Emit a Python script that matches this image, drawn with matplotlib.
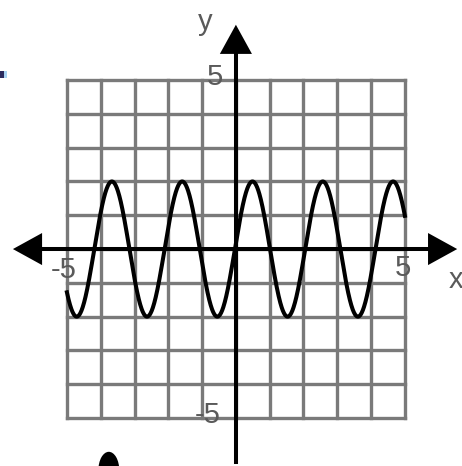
import numpy as np
import matplotlib
matplotlib.use("Agg")
import matplotlib.pyplot as plt
from matplotlib.patches import Ellipse

# --- data ---
grid_ticks = list(range(-5, 6))          # grid lines at every integer from -5 to 5
x_tick_labels = {-5: "-5", 5: "5"}
y_tick_labels = {5: "5", -5: "-5"}
amplitude = 2.0
period = 2.08
phase_shift = -0.03                       # upward zero crossing
x_domain = (-5.0, 5.0)

W, H = 462, 466
fig = plt.figure(figsize=(W / 100, H / 100), dpi=100)
ax = fig.add_axes([0, 0, 1, 1])
ax.set_xlim(-6.98, 6.69)
ax.set_ylim(-6.42, 7.37)
ax.axis("off")

grid_color = "#7a7a7a"
for v in grid_ticks:
    ax.plot([v, v], [-5, 5], color=grid_color, lw=2.4, solid_capstyle="projecting", zorder=1)
    ax.plot([-5, 5], [v, v], color=grid_color, lw=2.4, solid_capstyle="projecting", zorder=1)

# axes with arrows
ax.plot([-6.4, 6.35], [0, 0], color="black", lw=2.9, zorder=3)
ax.plot([0, 0], [-6.3, 6.4], color="black", lw=2.9, zorder=3)
head = dict(arrowstyle="-|>,head_length=1.0,head_width=0.55", color="black", lw=0, mutation_scale=21)
ax.annotate("", xy=(-6.68, 0), xytext=(-6.0, 0), arrowprops=head, zorder=4)
ax.annotate("", xy=(6.63, 0), xytext=(6.0, 0), arrowprops=head, zorder=4)
ax.annotate("", xy=(0, 6.72), xytext=(0, 6.0), arrowprops=head, zorder=4)
ax.annotate("", xy=(0, -6.75), xytext=(0, -6.0), arrowprops=head, zorder=4)

# curve
xs = np.linspace(x_domain[0], x_domain[1], 1200)
ys = amplitude * np.sin(2 * np.pi * (xs - phase_shift) / period)
ax.plot(xs, ys, color="black", lw=2.9, zorder=5)

txt = dict(color="#5a5a5a", fontsize=21, family="Liberation Sans", ha="center", va="center", zorder=6)
ax.text(-5.1, -0.63, x_tick_labels[-5], **txt)
ax.text(4.95, -0.57, x_tick_labels[5], **txt)
ax.text(-0.62, 5.08, y_tick_labels[5], **txt)
ax.text(-0.82, -4.9, y_tick_labels[-5], **txt)
ax.text(-0.92, 6.72, "y", **txt)
ax.text(6.5, -0.92, "x", **txt)

# stray marks from the cropped source
ax.add_patch(plt.Rectangle((-6.98, 5.07), 0.13, 0.2, color="#2b2b5e", lw=0, zorder=6))
ax.add_patch(plt.Rectangle((-6.85, 5.07), 0.08, 0.2, color="#a8d4f4", lw=0, zorder=6))
ax.add_patch(Ellipse((-3.76, -6.55), 0.62, 1.1, color="black", lw=0, zorder=6))

fig.savefig("out.png", dpi=100)
